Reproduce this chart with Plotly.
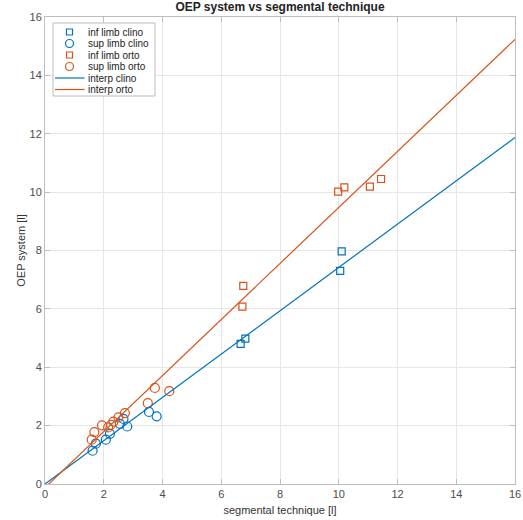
import plotly.graph_objects as go

# data
inf_clino_x = [6.66, 6.82, 10.05, 10.10]
inf_clino_y = [4.80, 4.98, 7.30, 7.97]

sup_clino_x = [1.62, 1.73, 2.07, 2.21, 2.55, 2.67, 2.80, 3.54, 3.80]
sup_clino_y = [1.14, 1.38, 1.52, 1.72, 2.06, 2.23, 1.97, 2.47, 2.32]

inf_orto_x = [6.72, 6.75, 9.98, 10.19, 11.06, 11.44]
inf_orto_y = [6.08, 6.79, 10.02, 10.16, 10.19, 10.45]

sup_orto_x = [1.59, 1.68, 1.94, 2.15, 2.25, 2.33, 2.50, 2.72, 3.50, 3.74, 4.23]
sup_orto_y = [1.52, 1.78, 2.01, 1.94, 2.03, 2.14, 2.28, 2.43, 2.77, 3.29, 3.18]

# linear interpolation coefficients [slope, intercept]
interp_clino = [0.742, 0.0]
interp_orto = [0.960, -0.125]
interp_x = [0, 16]

ticks = list(range(0, 17, 2))

legend_labels = ["inf limb clino", "sup limb clino", "inf limb orto",
                 "sup limb orto", "interp clino", "interp orto"]

BLUE = "#0072BD"
ORANGE = "#D95319"
FONT = "Liberation Sans, Arial, sans-serif"

fig = go.Figure()

def mk(x, y, sym, col, name, size):
    fig.add_trace(go.Scatter(x=x, y=y, mode="markers", name=name, showlegend=False,
                             marker=dict(symbol=sym, size=size, color=col,
                                         line=dict(color=col, width=1.2))))

mk(inf_clino_x, inf_clino_y, "square-open", BLUE, legend_labels[0], 7)
mk(sup_clino_x, sup_clino_y, "circle-open", BLUE, legend_labels[1], 9)
mk(inf_orto_x, inf_orto_y, "square-open", ORANGE, legend_labels[2], 7)
mk(sup_orto_x, sup_orto_y, "circle-open", ORANGE, legend_labels[3], 9)

for coef, col, name in [(interp_clino, BLUE, legend_labels[4]),
                        (interp_orto, ORANGE, legend_labels[5])]:
    fig.add_trace(go.Scatter(x=interp_x, y=[coef[0] * v + coef[1] for v in interp_x],
                             mode="lines", name=name, showlegend=False,
                             line=dict(color=col, width=1.2)))

# compact MATLAB-style legend drawn in pixel offsets from the top-left of the axes
shapes = []
annotations = []
def pshape(kind, x0, x1, y0, y1, **kw):
    shapes.append(dict(type=kind, xref="paper", yref="paper", xsizemode="pixel",
                       ysizemode="pixel", xanchor=0, yanchor=1,
                       x0=x0, x1=x1, y0=-y0, y1=-y1, **kw))

pshape("rect", 8, 110, 6, 79, line=dict(color="#bdbdbd", width=1), fillcolor="white")
rows = [15, 26.5, 38, 49.5, 61, 72.5]
styles = [("square", BLUE), ("circle", BLUE), ("square", ORANGE),
          ("circle", ORANGE), ("line", BLUE), ("line", ORANGE)]
for r, (kind, col), lab in zip(rows, styles, legend_labels):
    cx = 24.5
    if kind == "square":
        pshape("rect", cx - 3, cx + 3, r - 3, r + 3, line=dict(color=col, width=1.2))
    elif kind == "circle":
        pshape("circle", cx - 4, cx + 4, r - 4, r + 4, line=dict(color=col, width=1.2))
    else:
        pshape("line", 10, 39.5, r, r, line=dict(color=col, width=1.2))
    annotations.append(dict(text=lab, xref="paper", yref="paper", x=0, y=1,
                            xshift=41, yshift=-r, xanchor="left", yanchor="middle",
                            showarrow=False, font=dict(size=10, color="#222222", family=FONT)))

axis_common = dict(range=[0, 16], tickvals=ticks, showgrid=True, gridcolor="#e6e6e6",
                   gridwidth=1, zeroline=False, showline=True, linecolor="#bdbdbd",
                   linewidth=1, mirror="ticks", ticks="inside", ticklen=5,
                   tickcolor="#bdbdbd", tickfont=dict(size=11, color="#4d4d4d"),
                   automargin=False)

fig.update_layout(
    width=523, height=520,
    margin=dict(l=45, r=8, t=17, b=36),
    paper_bgcolor="white", plot_bgcolor="white",
    font=dict(family=FONT, color="#333333"),
    title=dict(text="<b>OEP system vs segmental technique</b>", x=0.5, xref="paper",
               y=0.995, yref="container", yanchor="top",
               font=dict(size=12, color="#222222")),
    xaxis=dict(axis_common, title=dict(text="segmental technique [l]", standoff=7,
                                       font=dict(size=11, color="#333333"))),
    yaxis=dict(axis_common, title=dict(text="OEP system [l]", standoff=1,
                                       font=dict(size=11, color="#333333"))),
    shapes=shapes,
    annotations=annotations,
    showlegend=False,
)

fig.write_html("out.html", config={"displayModeBar": False},
               post_script="document.body.style.margin='0';document.body.style.overflow='hidden';")
